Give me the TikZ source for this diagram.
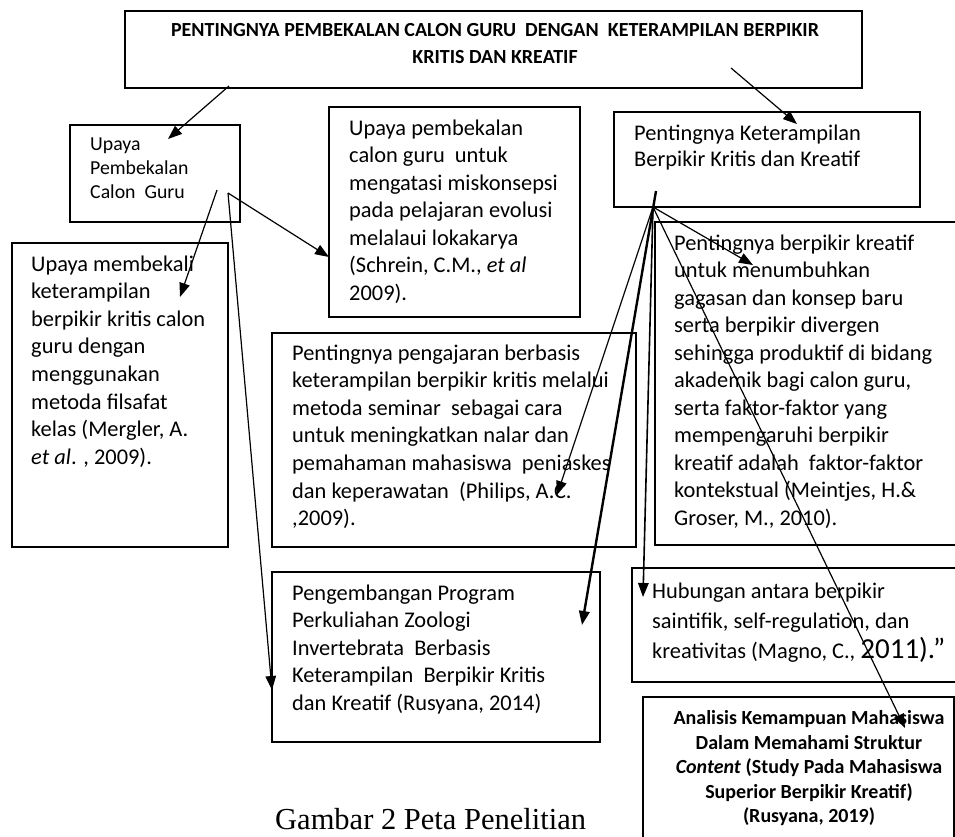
\documentclass[tikz,border=0pt]{standalone}
\usepackage{fontspec}
\setmainfont{Carlito}
\newfontfamily\capfont{Liberation Serif}
\usetikzlibrary{arrows.meta}
\tikzset{
  bx/.style={draw, line width=1.4pt},
  body/.style={anchor=north west, inner sep=0pt, align=left,
    font=\fontsize{22.4}{27.6}\selectfont, execute at begin node={\rule{0pt}{0.8em}}},
  boldc/.style={anchor=north, inner sep=0pt, align=center,
    font=\bfseries\fontsize{20}{24.5}\selectfont, execute at begin node={\rule{0pt}{0.8em}}},
  arr/.style={line width=1.2pt, -{Triangle[length=14pt,width=10.5pt]}},
  thickarr/.style={line width=2.4pt, -{Triangle[length=14pt,width=10.5pt]}}
}
\begin{document}
\begin{tikzpicture}[x=1pt,y=-1pt]
\useasboundingbox (0,0) rectangle (955,836);
\clip (0,0) rectangle (955,836);
% boxes
\draw[bx] (125,11) rectangle (862,88);
\node[boldc, font=\bfseries\fontsize{20}{27}\selectfont] (ttop) at (495,22.7) {PENTINGNYA PEMBEKALAN CALON GURU~~DENGAN~~KETERAMPILAN BERPIKIR\\KRITIS DAN KREATIF};

\draw[bx] (70,125) rectangle (240,222);
\node[body, font=\fontsize{19.8}{24}\selectfont] (tupaya) at (90,137.8) {Upaya\\Pembekalan\\Calon~~Guru};

\draw[bx] (329,107) rectangle (580,317);
\node[body, font=\fontsize{22.4}{27.5}\selectfont] (tschrein) at (349,119.3) {Upaya pembekalan\\calon guru~~untuk\\mengatasi miskonsepsi\\pada pelajaran evolusi\\melalaui lokakarya\\(Schrein, C.M., \textit{et al}\\2009).};

\draw[bx] (614,112) rectangle (920,207);
\node[body, font=\fontsize{22.4}{26.5}\selectfont] (tket) at (634,124.3) {Pentingnya Keterampilan\\Berpikir Kritis dan Kreatif};

\draw[bx] (12,243) rectangle (228,547);
\node[body] (tmembekali) at (31,255.3) {Upaya membekali\\keterampilan\\berpikir kritis calon\\guru dengan\\menggunakan\\metoda filsafat\\kelas (Mergler, A.\\\textit{et al}. , 2009).};

\draw[bx] (272,333) rectangle (636,547);
\node[body] (tphilips) at (292,344.3) {Pentingnya pengajaran berbasis\\keterampilan berpikir kritis melalui\\metoda seminar~~sebagai cara\\untuk meningkatkan nalar dan\\pemahaman mahasiswa~~peniaskes\\dan keperawatan~~(Philips, A.C.\\,2009).};

\draw[bx] (655,222) rectangle (1000,545);
\node[body, font=\fontsize{22.4}{27.5}\selectfont] (tkreatif) at (674,234.3) {Pentingnya berpikir kreatif\\untuk menumbuhkan\\gagasan dan konsep baru\\serta berpikir divergen\\sehingga produktif di bidang\\akademik bagi calon guru,\\serta faktor-faktor yang\\mempengaruhi berpikir\\kreatif adalah~~faktor-faktor\\kontekstual (Meintjes, H.\&\\Groser, M., 2010).};

\draw[bx] (272,572) rectangle (600,742);
\node[body, font=\fontsize{22.4}{27.5}\selectfont] (tpeng) at (292,584.3) {Pengembangan Program\\Perkuliahan Zoologi\\Invertebrata~~Berbasis\\Keterampilan~~Berpikir Kritis\\dan Kreatif (Rusyana, 2014)};

\draw[bx] (632,568) rectangle (1000,682);
\node[body, font=\fontsize{22.4}{30}\selectfont] (thub) at (652,582.3) {Hubungan antara berpikir\\saintifik, self-regulation, dan\\kreativitas (Magno, C., {\fontsize{29}{30}\selectfont 2011).”}};

\draw[bx] (643,697) rectangle (954,900);
\node[boldc] (tanalisis) at (809,710.7) {Analisis Kemampuan Mahasiswa\\Dalam Memahami Struktur\\\textit{Content} (Study Pada Mahasiswa\\Superior Berpikir Kreatif)\\(Rusyana, 2019)};

\node[anchor=base west, inner sep=0pt, font=\capfont\fontsize{30.5}{32}\selectfont] (cap) at (275,829) {Gambar 2 Peta Penelitian};

% connector end points
\coordinate (a1s) at (229,86);  \coordinate (a1e) at (168,139);
\coordinate (a2s) at (731,68);  \coordinate (a2e) at (797,124);
\coordinate (a3s) at (217,190); \coordinate (a3e) at (180,297);
\coordinate (a4s) at (228,193); \coordinate (a4e) at (329,257);
\coordinate (a5e) at (272,690);
\coordinate (fan) at (653,207); \coordinate (fan2) at (656,191);
\coordinate (b1e) at (557,495);
\coordinate (b2e) at (582,625);
\coordinate (b3e) at (643,597);
\coordinate (b4e) at (753,265);
\coordinate (b5e) at (905,728);

\draw[arr] (a1s) -- (a1e);
\draw[arr] (a2s) -- (a2e);
\draw[arr] (a3s) -- (a3e);
\draw[arr] (a4s) -- (a4e);
\draw[arr] (a4s) -- (a5e);
\draw[arr] (fan) -- (b1e);
\draw[thickarr] (fan2) -- (b2e);
\draw[arr, line width=1.6pt] (fan) -- (b3e);
\draw[arr] (fan) -- (b4e);
\draw[arr] (fan) -- (b5e);
\end{tikzpicture}
\end{document}
